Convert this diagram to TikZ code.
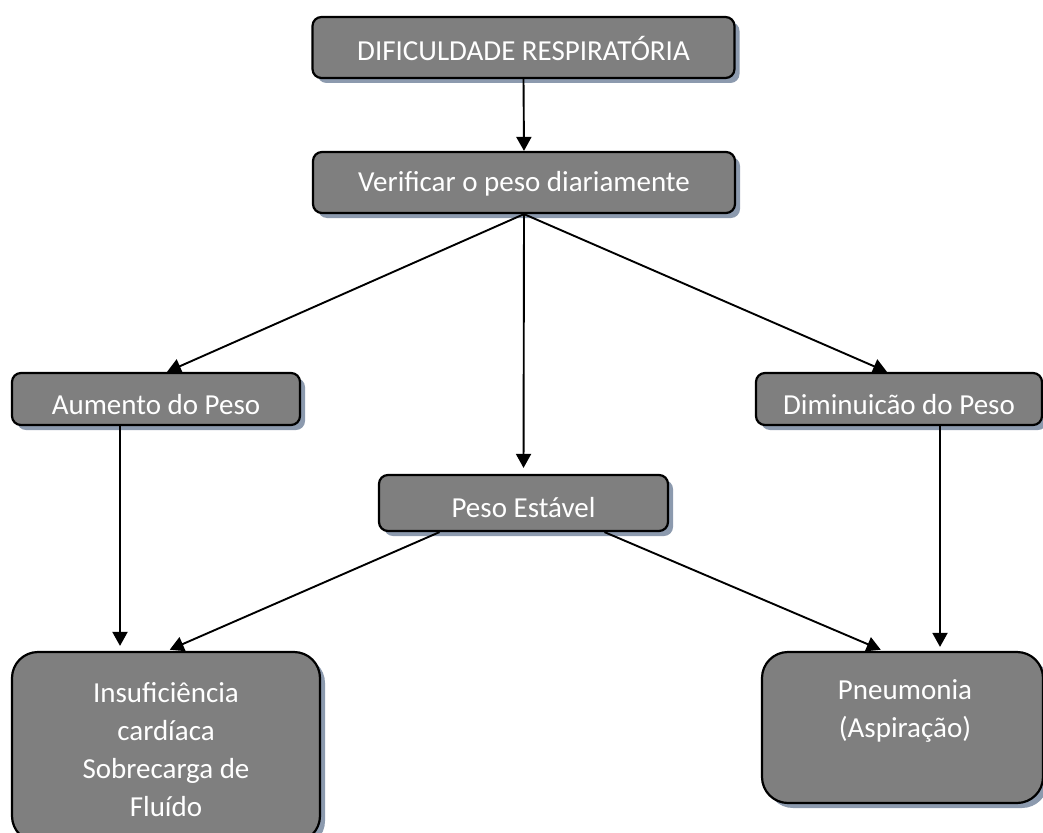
\documentclass[tikz,border=0pt]{standalone}
\usepackage{fontspec}
\setmainfont{Carlito}
\usetikzlibrary{shadows,arrows.meta}
\definecolor{boxfill}{HTML}{7F7F7F}
\definecolor{shadowc}{HTML}{8C9AAE}
\tikzset{
  boxtext/.style={text=white, font=\fontsize{29}{38}\selectfont, align=center, inner sep=0pt},
  box/.style={draw=black, line width=2.2pt, fill=boxfill, inner sep=0pt,
    drop shadow={shadow xshift=5pt, shadow yshift=-5pt, fill=shadowc, opacity=1}},
  smallbox/.style={box, rounded corners=9pt},
  bigbox/.style={box, rounded corners=26pt},
  link/.style={line width=1.9pt, -{Triangle[length=14pt,width=15pt]}}
}
\begin{document}
\begin{tikzpicture}[x=1pt,y=1pt]
\useasboundingbox (0,0) rectangle (1043,-832);

% boxes, each with its caption set a little below the centre
\node[smallbox, minimum width=422pt, minimum height=61pt,
  label={[boxtext, yshift=-1pt]center:DIFICULDADE RESPIRATÓRIA}] (top) at (523.5,-47.5) {};
\node[smallbox, minimum width=422pt, minimum height=61pt,
  label={[boxtext, yshift=-1pt]center:Verificar o peso diariamente}] (verify) at (524,-182.5) {};
\node[smallbox, minimum width=288pt, minimum height=52pt,
  label={[boxtext, yshift=-6pt]center:Aumento do Peso}] (aum) at (156,-399) {};
\node[smallbox, minimum width=286pt, minimum height=52pt,
  label={[boxtext, yshift=-6pt]center:Diminuicão do Peso}] (dim) at (899,-399) {};
\node[smallbox, minimum width=289pt, minimum height=56pt,
  label={[boxtext, yshift=-5pt]center:Peso Estável}] (peso) at (523.5,-503) {};
\node[bigbox, minimum width=308pt, minimum height=190pt] (insuf) at (166,-747) {};
\node[boxtext] (insuftxt) at (166,-750)
  {Insuficiência\\cardíaca\\Sobrecarga de\\Fluído};
\node[bigbox, minimum width=281pt, minimum height=151pt] (pneu) at (902.5,-727.5) {};
\node[boxtext] (pneutxt) at (905,-711) {Pneumonia\\(Aspiração)};

% connectors
\draw[link] (top.south) -- (verify.north);
\draw[link] (verify.south) -- ([xshift=11pt]aum.north);
\draw[link] (verify.south) -- ([xshift=-12pt]dim.north);
\draw[link, shorten >=6pt] (verify.south) -- (peso.north);
\draw[link, shorten >=5pt] ([xshift=-36pt]aum.south) -- ([xshift=-46pt]insuf.north);
\draw[link, shorten >=3pt] ([xshift=-84pt]peso.south) -- ([xshift=1pt]insuf.north);
\draw[link, shorten >=3pt] ([xshift=81pt]peso.south) -- ([xshift=-19pt]pneu.north);
\draw[link, shorten >=4pt] ([xshift=41pt]dim.south) -- ([xshift=37.5pt]pneu.north);
\end{tikzpicture}
\end{document}
